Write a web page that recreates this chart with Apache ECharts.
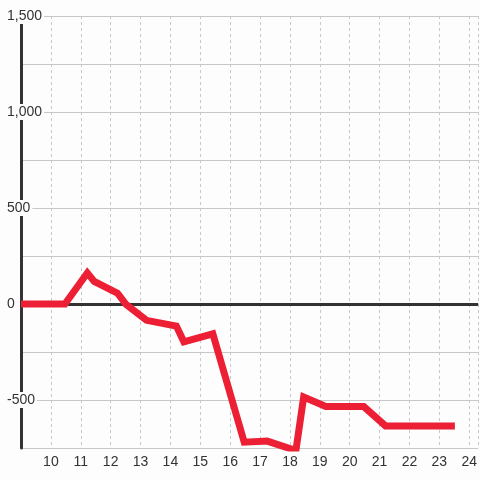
<!DOCTYPE html>
<html>
<head>
<meta charset="utf-8">
<script src="https://cdn.jsdelivr.net/npm/echarts@6/dist/echarts.min.js"></script>
<style>
  html, body { margin: 0; padding: 0; background: #fcfdfc; }
  #chart { width: 480px; height: 480px; }
</style>
</head>
<body>
<div id="chart"></div>
<script>
// x positions and values of the red line
const xValues = [9, 10.47, 11.22, 11.45, 12.23, 12.52, 13.2, 14.2, 14.45, 15.42, 16.47, 17.24, 18.2, 18.46, 19.2, 20.47, 21.2, 23.52];
const yValues = [0, 0, 162, 118, 56, -3, -85, -115, -197, -155, -720, -714, -763, -485, -534, -534, -635, -635];
const xTicks = [10, 11, 12, 13, 14, 15, 16, 17, 18, 19, 20, 21, 22, 23, 24];
const yLabels = [-500, 0, 500, 1000, 1500];

const points = xValues.map((x, i) => [x, yValues[i]]);
const bg = "#fcfdfc";

const chart = echarts.init(document.getElementById("chart"));
chart.setOption({
  backgroundColor: bg,
  animation: false,
  grid: { left: 21, right: 0, top: 16, bottom: 32 },
  xAxis: {
    type: "value",
    min: 9,
    max: 24.3,
    interval: 1,
    axisLine: { show: false },
    axisTick: { show: false },
    axisLabel: {
      margin: 7,
      color: "#333",
      fontSize: 14,
      fontFamily: "Liberation Sans",
      showMaxLabel: false,
      formatter: (v) => (xTicks.includes(v) ? String(v) : ""),
    },
    splitLine: {
      lineStyle: { color: "#c8c8c8", width: 1, type: [3, 3] },
    },
  },
  yAxis: [
    {
      type: "value",
      min: -750,
      max: 1500,
      interval: 250,
      z: 0,
      axisLine: { show: false },
      axisTick: { show: false },
      axisLabel: { show: false },
      splitLine: { lineStyle: { color: "#c8c8c8", width: 1 } },
    },
    {
      type: "value",
      min: -750,
      max: 1500,
      interval: 250,
      position: "left",
      z: 3,
      axisLine: { show: true, onZero: false, lineStyle: { color: "#333", width: 3 } },
      axisTick: { show: false },
      splitLine: { show: false },
      axisLabel: {
        align: "left",
        margin: 16,
        color: "#333",
        fontSize: 14,
        fontFamily: "Liberation Sans",
        backgroundColor: bg,
        padding: [2, 2, 0, 2],
        formatter: (v) => (yLabels.includes(v) ? v.toLocaleString("en-US") : ""),
      },
    },
  ],
  series: [
    {
      type: "line",
      data: [],
      z: 1,
      silent: true,
      markLine: {
        symbol: ["none", "none"],
        silent: true,
        label: { show: false },
        lineStyle: { color: "#333", width: 3, type: "solid" },
        data: [{ yAxis: 0 }],
      },
    },
    {
      type: "line",
      data: points,
      z: 5,
      symbol: "none",
      lineStyle: { color: "#ed1f34", width: 7, cap: "butt", join: "miter" },
    },
  ],
});
</script>
</body>
</html>
